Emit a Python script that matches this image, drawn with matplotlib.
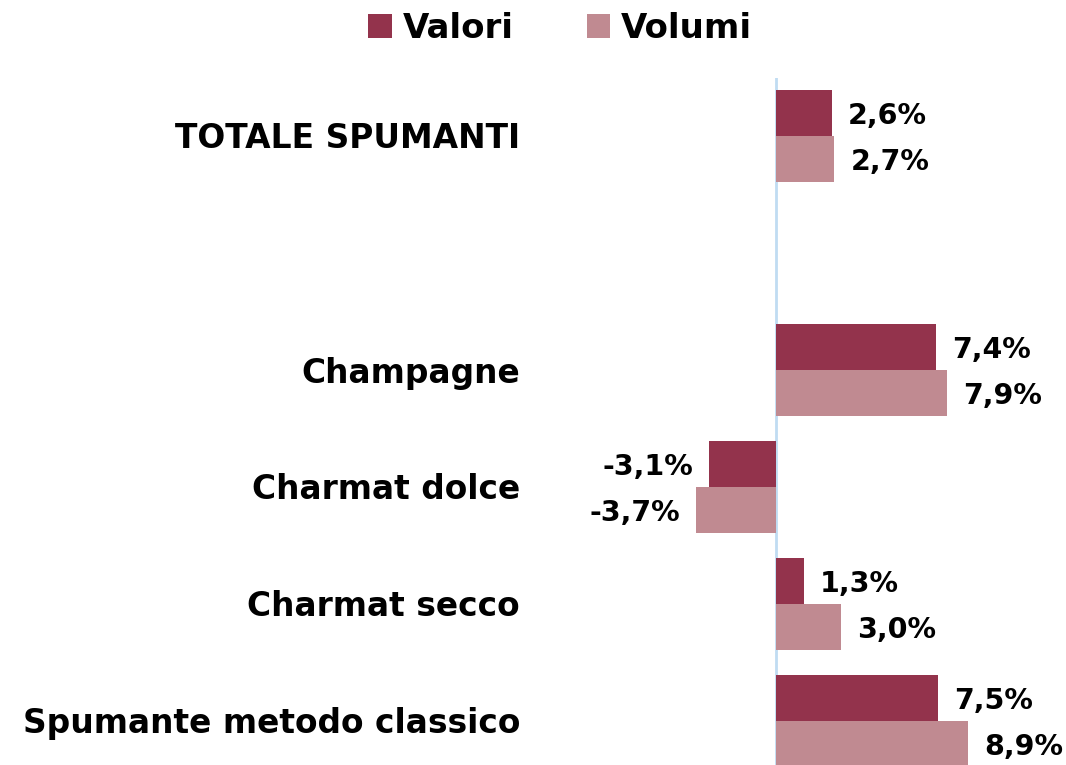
import matplotlib
matplotlib.use("Agg")
import matplotlib.pyplot as plt
from matplotlib.patches import Patch
from matplotlib.transforms import blended_transform_factory, ScaledTranslation

categories = ["TOTALE SPUMANTI", "", "Champagne", "Charmat dolce", "Charmat secco", "Spumante metodo classico"]
valori = [2.6, None, 7.4, -3.1, 1.3, 7.5]
volumi = [2.7, None, 7.9, -3.7, 3.0, 8.9]
series_names = ["Valori", "Volumi"]
colors = ["#93334C", "#C08A91"]

plt.rcParams['font.family'] = ['DejaVu Sans']
W, H = 1066, 765
fig = plt.figure(figsize=(W / 100, H / 100), dpi=100)

ax_left_px, ax_right_px = 560, 1066
ax_top_px, ax_bot_px = 78, 765
ax = fig.add_axes([ax_left_px / W, (H - ax_bot_px) / H, (ax_right_px - ax_left_px) / W, (ax_bot_px - ax_top_px) / H])
pxper = 21.6
zero_px = 776
ax.set_xlim((ax_left_px - zero_px) / pxper, (ax_right_px - zero_px) / pxper)
step = 117
ax.set_ylim((ax_bot_px - 136) / step, (ax_top_px - 136) / step)

bh = 0.395
for s, (vals, col) in enumerate(zip([valori, volumi], colors)):
    for i, v in enumerate(vals):
        if v is None:
            continue
        y = i - bh / 2 + s * bh
        ax.barh(y, v, height=bh, color=col, edgecolor='none')
        lab = f"{v:.1f}%".replace('.', ',')
        if v >= 0:
            ax.annotate(lab, (v, y), xytext=(16, -3), textcoords='offset pixels',
                        ha='left', va='center', fontsize=20.5, fontweight='bold', color='#000000')
        else:
            ax.annotate(lab, (v, y), xytext=(-16, -3), textcoords='offset pixels',
                        ha='right', va='center', fontsize=20.5, fontweight='bold', color='#000000')

ax.axvline(0, color='#C0DCF2', lw=2, zorder=0)
for sp in ax.spines.values():
    sp.set_visible(False)
ax.set_xticks([])
ax.set_yticks([])

tr = blended_transform_factory(fig.transFigure, ax.transData) + ScaledTranslation(0, -3 / 100, fig.dpi_scale_trans)
for i, c in enumerate(categories):
    if c:
        t = fig.text(520 / W, i, c, transform=tr, ha='right', va='center', fontsize=23.7,
                     fontweight='bold', color='#000000')

handles = [Patch(facecolor=c, edgecolor='none') for c in colors]
fig.legend(handles, series_names, loc='center', bbox_to_anchor=(560 / W, 1 - 28 / H), ncol=2,
           frameon=False, handlelength=0.7, handleheight=0.7, handletextpad=0.3, columnspacing=2.15,
           prop={'size': 24.5, 'weight': 'bold'})

fig.savefig("out.png", dpi=100)
